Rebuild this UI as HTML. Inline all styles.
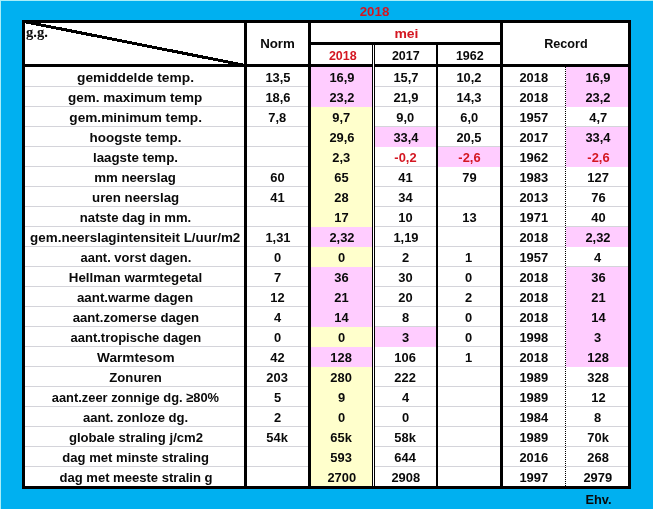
<!DOCTYPE html><html><head><meta charset="utf-8"><title>mei 2018</title><style>
html,body{margin:0;padding:0}
body{width:653px;height:509px;overflow:hidden;position:relative;background:#00b0f0;font-family:"Liberation Sans",sans-serif;font-weight:bold;color:#0a0a0a;font-size:13.3px}
div{position:absolute}
.k{background:#000}
.g{background:#d4d4da;height:1px}
.t{white-space:nowrap;text-align:center;line-height:20px;height:20px}
.t span{display:inline-block}
.r{color:#d41722}
</style></head><body>
<div style="left:0;top:0;width:653px;height:1px;background:#a8eef9"></div>
<div style="left:0;top:0;width:1px;height:509px;background:#a8eef9"></div>
<div style="left:22px;top:20px;width:609px;height:469px;background:#fff"></div>
<div class="g" style="left:25px;top:86px;width:603px"></div>
<div class="g" style="left:25px;top:106px;width:603px"></div>
<div class="g" style="left:25px;top:126px;width:603px"></div>
<div class="g" style="left:25px;top:146px;width:603px"></div>
<div class="g" style="left:25px;top:166px;width:603px"></div>
<div class="g" style="left:25px;top:186px;width:603px"></div>
<div class="g" style="left:25px;top:206px;width:603px"></div>
<div class="g" style="left:25px;top:226px;width:603px"></div>
<div class="g" style="left:25px;top:246px;width:603px"></div>
<div class="g" style="left:25px;top:266px;width:603px"></div>
<div class="g" style="left:25px;top:286px;width:603px"></div>
<div class="g" style="left:25px;top:306px;width:603px"></div>
<div class="g" style="left:25px;top:326px;width:603px"></div>
<div class="g" style="left:25px;top:346px;width:603px"></div>
<div class="g" style="left:25px;top:366px;width:603px"></div>
<div class="g" style="left:25px;top:386px;width:603px"></div>
<div class="g" style="left:25px;top:406px;width:603px"></div>
<div class="g" style="left:25px;top:426px;width:603px"></div>
<div class="g" style="left:25px;top:446px;width:603px"></div>
<div class="g" style="left:25px;top:466px;width:603px"></div>
<div style="left:311px;top:67px;width:61px;height:20px;background:#ffccff"></div>
<div style="left:566px;top:67px;width:62px;height:20px;background:#ffccff"></div>
<div style="left:311px;top:87px;width:61px;height:20px;background:#ffccff"></div>
<div style="left:566px;top:87px;width:62px;height:20px;background:#ffccff"></div>
<div style="left:311px;top:107px;width:61px;height:20px;background:#ffffcc"></div>
<div style="left:311px;top:127px;width:61px;height:20px;background:#ffffcc"></div>
<div style="left:375px;top:127px;width:61px;height:20px;background:#ffccff"></div>
<div style="left:566px;top:127px;width:62px;height:20px;background:#ffccff"></div>
<div style="left:311px;top:147px;width:61px;height:20px;background:#ffffcc"></div>
<div style="left:438px;top:147px;width:62px;height:20px;background:#ffccff"></div>
<div style="left:566px;top:147px;width:62px;height:20px;background:#ffccff"></div>
<div style="left:311px;top:167px;width:61px;height:20px;background:#ffffcc"></div>
<div style="left:311px;top:187px;width:61px;height:20px;background:#ffffcc"></div>
<div style="left:311px;top:207px;width:61px;height:20px;background:#ffffcc"></div>
<div style="left:311px;top:227px;width:61px;height:20px;background:#ffccff"></div>
<div style="left:566px;top:227px;width:62px;height:20px;background:#ffccff"></div>
<div style="left:311px;top:247px;width:61px;height:20px;background:#ffffcc"></div>
<div style="left:311px;top:267px;width:61px;height:20px;background:#ffccff"></div>
<div style="left:566px;top:267px;width:62px;height:20px;background:#ffccff"></div>
<div style="left:311px;top:287px;width:61px;height:20px;background:#ffccff"></div>
<div style="left:566px;top:287px;width:62px;height:20px;background:#ffccff"></div>
<div style="left:311px;top:307px;width:61px;height:20px;background:#ffccff"></div>
<div style="left:566px;top:307px;width:62px;height:20px;background:#ffccff"></div>
<div style="left:311px;top:327px;width:61px;height:20px;background:#ffffcc"></div>
<div style="left:375px;top:327px;width:61px;height:20px;background:#ffccff"></div>
<div style="left:566px;top:327px;width:62px;height:20px;background:#ffccff"></div>
<div style="left:311px;top:347px;width:61px;height:20px;background:#ffccff"></div>
<div style="left:566px;top:347px;width:62px;height:20px;background:#ffccff"></div>
<div style="left:311px;top:367px;width:61px;height:20px;background:#ffffcc"></div>
<div style="left:311px;top:387px;width:61px;height:20px;background:#ffffcc"></div>
<div style="left:311px;top:407px;width:61px;height:20px;background:#ffffcc"></div>
<div style="left:311px;top:427px;width:61px;height:20px;background:#ffffcc"></div>
<div style="left:311px;top:447px;width:61px;height:20px;background:#ffffcc"></div>
<div style="left:311px;top:467px;width:61px;height:20px;background:#ffffcc"></div>
<div class="k" style="left:22px;top:20px;width:609px;height:3px"></div>
<div class="k" style="left:22px;top:486px;width:609px;height:3px"></div>
<div class="k" style="left:22px;top:20px;width:3px;height:469px"></div>
<div class="k" style="left:628px;top:20px;width:3px;height:469px"></div>
<div class="k" style="left:244px;top:20px;width:3px;height:469px"></div>
<div class="k" style="left:308px;top:20px;width:3px;height:469px"></div>
<div class="k" style="left:500px;top:20px;width:3px;height:469px"></div>
<div class="k" style="left:308px;top:42px;width:195px;height:3px"></div>
<div class="k" style="left:22px;top:64px;width:609px;height:3px"></div>
<div class="k" style="left:372px;top:45px;width:1px;height:441px"></div>
<div class="k" style="left:374px;top:45px;width:1px;height:441px"></div>
<div style="left:373px;top:45px;width:1px;height:441px;background:#fff"></div>
<div class="k" style="left:436px;top:45px;width:2px;height:441px"></div>
<div style="left:565px;top:67px;width:1px;height:419px;background:repeating-linear-gradient(to bottom,#000 0,#000 1px,#fff 1px,#fff 2px)"></div>
<svg style="position:absolute;left:22px;top:20px" width="225" height="47" viewBox="0 0 225 47"><line x1="1.5" y1="1.5" x2="223.5" y2="45.5" stroke="#000" stroke-width="3" shape-rendering="crispEdges"/></svg>
<div class="t r" style="left:327px;top:2px;width:95px"><span>2018</span></div>
<div class="t" style="left:26px;top:22px;text-align:left;font-family:'Liberation Serif',serif;font-size:14.67px"><span>g.g.</span></div>
<div class="t" style="left:247px;top:34px;width:61px"><span>Norm</span></div>
<div class="t r" style="left:311px;top:24px;width:191px"><span style="transform:scaleX(1.05);">mei</span></div>
<div class="t r" style="left:312px;top:46px;width:61px"><span style="transform:scaleX(0.94);">2018</span></div>
<div class="t" style="left:375.5px;top:46px;width:61px"><span style="transform:scaleX(0.94);">2017</span></div>
<div class="t" style="left:439px;top:46px;width:62px"><span style="transform:scaleX(0.94);">1962</span></div>
<div class="t" style="left:503px;top:34px;width:126px"><span style="transform:scaleX(0.95);">Record</span></div>
<div class="t" style="left:26px;top:68px;width:219px"><span style="transform:scaleX(1.034);">gemiddelde temp.</span></div>
<div class="t" style="left:247px;top:68px;width:61px"><span style="transform:scaleX(0.97);">13,5</span></div>
<div class="t" style="left:311px;top:68px;width:61px"><span style="transform:scaleX(0.97);">16,9</span></div>
<div class="t" style="left:375px;top:68px;width:61px"><span style="transform:scaleX(0.97);">15,7</span></div>
<div class="t" style="left:438px;top:68px;width:62px"><span style="transform:scaleX(0.97);">10,2</span></div>
<div class="t" style="left:503px;top:68px;width:62px"><span style="transform:scaleX(0.97);">2018</span></div>
<div class="t" style="left:567px;top:68px;width:62px"><span style="transform:scaleX(0.97);">16,9</span></div>
<div class="t" style="left:26px;top:88px;width:219px"><span style="transform:scaleX(1.014);">gem. maximum temp</span></div>
<div class="t" style="left:247px;top:88px;width:61px"><span style="transform:scaleX(0.97);">18,6</span></div>
<div class="t" style="left:311px;top:88px;width:61px"><span style="transform:scaleX(0.97);">23,2</span></div>
<div class="t" style="left:375px;top:88px;width:61px"><span style="transform:scaleX(0.97);">21,9</span></div>
<div class="t" style="left:438px;top:88px;width:62px"><span style="transform:scaleX(0.97);">14,3</span></div>
<div class="t" style="left:503px;top:88px;width:62px"><span style="transform:scaleX(0.97);">2018</span></div>
<div class="t" style="left:567px;top:88px;width:62px"><span style="transform:scaleX(0.97);">23,2</span></div>
<div class="t" style="left:26px;top:108px;width:219px"><span style="transform:scaleX(1.026);">gem.minimum temp.</span></div>
<div class="t" style="left:247px;top:108px;width:61px"><span style="transform:scaleX(0.97);">7,8</span></div>
<div class="t" style="left:311px;top:108px;width:61px"><span style="transform:scaleX(0.97);">9,7</span></div>
<div class="t" style="left:375px;top:108px;width:61px"><span style="transform:scaleX(0.97);">9,0</span></div>
<div class="t" style="left:438px;top:108px;width:62px"><span style="transform:scaleX(0.97);">6,0</span></div>
<div class="t" style="left:503px;top:108px;width:62px"><span style="transform:scaleX(0.97);">1957</span></div>
<div class="t" style="left:567px;top:108px;width:62px"><span style="transform:scaleX(0.97);">4,7</span></div>
<div class="t" style="left:26px;top:128px;width:219px"><span style="transform:scaleX(1.011);">hoogste temp.</span></div>
<div class="t" style="left:311px;top:128px;width:61px"><span style="transform:scaleX(0.97);">29,6</span></div>
<div class="t" style="left:375px;top:128px;width:61px"><span style="transform:scaleX(0.97);">33,4</span></div>
<div class="t" style="left:438px;top:128px;width:62px"><span style="transform:scaleX(0.97);">20,5</span></div>
<div class="t" style="left:503px;top:128px;width:62px"><span style="transform:scaleX(0.97);">2017</span></div>
<div class="t" style="left:567px;top:128px;width:62px"><span style="transform:scaleX(0.97);">33,4</span></div>
<div class="t" style="left:26px;top:148px;width:219px"><span style="transform:scaleX(1.001);">laagste temp.</span></div>
<div class="t" style="left:311px;top:148px;width:61px"><span style="transform:scaleX(0.97);">2,3</span></div>
<div class="t r" style="left:375px;top:148px;width:61px"><span style="transform:scaleX(0.97);">-0,2</span></div>
<div class="t r" style="left:438px;top:148px;width:62px"><span style="transform:scaleX(0.97);">-2,6</span></div>
<div class="t" style="left:503px;top:148px;width:62px"><span style="transform:scaleX(0.97);">1962</span></div>
<div class="t r" style="left:567px;top:148px;width:62px"><span style="transform:scaleX(0.97);">-2,6</span></div>
<div class="t" style="left:26px;top:168px;width:219px"><span style="transform:scaleX(0.995);">mm neerslag</span></div>
<div class="t" style="left:247px;top:168px;width:61px"><span style="transform:scaleX(0.97);">60</span></div>
<div class="t" style="left:311px;top:168px;width:61px"><span style="transform:scaleX(0.97);">65</span></div>
<div class="t" style="left:375px;top:168px;width:61px"><span style="transform:scaleX(0.97);">41</span></div>
<div class="t" style="left:438px;top:168px;width:62px"><span style="transform:scaleX(0.97);">79</span></div>
<div class="t" style="left:503px;top:168px;width:62px"><span style="transform:scaleX(0.97);">1983</span></div>
<div class="t" style="left:567px;top:168px;width:62px"><span style="transform:scaleX(0.97);">127</span></div>
<div class="t" style="left:26px;top:188px;width:219px"><span style="transform:scaleX(0.998);">uren neerslag</span></div>
<div class="t" style="left:247px;top:188px;width:61px"><span style="transform:scaleX(0.97);">41</span></div>
<div class="t" style="left:311px;top:188px;width:61px"><span style="transform:scaleX(0.97);">28</span></div>
<div class="t" style="left:375px;top:188px;width:61px"><span style="transform:scaleX(0.97);">34</span></div>
<div class="t" style="left:503px;top:188px;width:62px"><span style="transform:scaleX(0.97);">2013</span></div>
<div class="t" style="left:567px;top:188px;width:62px"><span style="transform:scaleX(0.97);">76</span></div>
<div class="t" style="left:26px;top:208px;width:219px"><span style="transform:scaleX(0.985);">natste dag in mm.</span></div>
<div class="t" style="left:311px;top:208px;width:61px"><span style="transform:scaleX(0.97);">17</span></div>
<div class="t" style="left:375px;top:208px;width:61px"><span style="transform:scaleX(0.97);">10</span></div>
<div class="t" style="left:438px;top:208px;width:62px"><span style="transform:scaleX(0.97);">13</span></div>
<div class="t" style="left:503px;top:208px;width:62px"><span style="transform:scaleX(0.97);">1971</span></div>
<div class="t" style="left:567px;top:208px;width:62px"><span style="transform:scaleX(0.97);">40</span></div>
<div class="t" style="left:26px;top:228px;width:219px"><span style="transform:scaleX(1.009);">gem.neerslagintensiteit L/uur/m2</span></div>
<div class="t" style="left:247px;top:228px;width:61px"><span style="transform:scaleX(0.97);">1,31</span></div>
<div class="t" style="left:311px;top:228px;width:61px"><span style="transform:scaleX(0.97);">2,32</span></div>
<div class="t" style="left:375px;top:228px;width:61px"><span style="transform:scaleX(0.97);">1,19</span></div>
<div class="t" style="left:503px;top:228px;width:62px"><span style="transform:scaleX(0.97);">2018</span></div>
<div class="t" style="left:567px;top:228px;width:62px"><span style="transform:scaleX(0.97);">2,32</span></div>
<div class="t" style="left:26px;top:248px;width:219px"><span style="transform:scaleX(0.973);">aant. vorst dagen.</span></div>
<div class="t" style="left:247px;top:248px;width:61px"><span style="transform:scaleX(0.97);">0</span></div>
<div class="t" style="left:311px;top:248px;width:61px"><span style="transform:scaleX(0.97);">0</span></div>
<div class="t" style="left:375px;top:248px;width:61px"><span style="transform:scaleX(0.97);">2</span></div>
<div class="t" style="left:438px;top:248px;width:62px"><span style="transform:scaleX(0.97);">1</span></div>
<div class="t" style="left:503px;top:248px;width:62px"><span style="transform:scaleX(0.97);">1957</span></div>
<div class="t" style="left:567px;top:248px;width:62px"><span style="transform:scaleX(0.97);">4</span></div>
<div class="t" style="left:26px;top:268px;width:219px"><span style="transform:scaleX(1.003);">Hellman warmtegetal</span></div>
<div class="t" style="left:247px;top:268px;width:61px"><span style="transform:scaleX(0.97);">7</span></div>
<div class="t" style="left:311px;top:268px;width:61px"><span style="transform:scaleX(0.97);">36</span></div>
<div class="t" style="left:375px;top:268px;width:61px"><span style="transform:scaleX(0.97);">30</span></div>
<div class="t" style="left:438px;top:268px;width:62px"><span style="transform:scaleX(0.97);">0</span></div>
<div class="t" style="left:503px;top:268px;width:62px"><span style="transform:scaleX(0.97);">2018</span></div>
<div class="t" style="left:567px;top:268px;width:62px"><span style="transform:scaleX(0.97);">36</span></div>
<div class="t" style="left:26px;top:288px;width:219px"><span style="transform:scaleX(1.001);">aant.warme dagen</span></div>
<div class="t" style="left:247px;top:288px;width:61px"><span style="transform:scaleX(0.97);">12</span></div>
<div class="t" style="left:311px;top:288px;width:61px"><span style="transform:scaleX(0.97);">21</span></div>
<div class="t" style="left:375px;top:288px;width:61px"><span style="transform:scaleX(0.97);">20</span></div>
<div class="t" style="left:438px;top:288px;width:62px"><span style="transform:scaleX(0.97);">2</span></div>
<div class="t" style="left:503px;top:288px;width:62px"><span style="transform:scaleX(0.97);">2018</span></div>
<div class="t" style="left:567px;top:288px;width:62px"><span style="transform:scaleX(0.97);">21</span></div>
<div class="t" style="left:26px;top:308px;width:219px"><span style="transform:scaleX(0.989);">aant.zomerse dagen</span></div>
<div class="t" style="left:247px;top:308px;width:61px"><span style="transform:scaleX(0.97);">4</span></div>
<div class="t" style="left:311px;top:308px;width:61px"><span style="transform:scaleX(0.97);">14</span></div>
<div class="t" style="left:375px;top:308px;width:61px"><span style="transform:scaleX(0.97);">8</span></div>
<div class="t" style="left:438px;top:308px;width:62px"><span style="transform:scaleX(0.97);">0</span></div>
<div class="t" style="left:503px;top:308px;width:62px"><span style="transform:scaleX(0.97);">2018</span></div>
<div class="t" style="left:567px;top:308px;width:62px"><span style="transform:scaleX(0.97);">14</span></div>
<div class="t" style="left:26px;top:328px;width:219px"><span style="transform:scaleX(0.978);">aant.tropische dagen</span></div>
<div class="t" style="left:247px;top:328px;width:61px"><span style="transform:scaleX(0.97);">0</span></div>
<div class="t" style="left:311px;top:328px;width:61px"><span style="transform:scaleX(0.97);">0</span></div>
<div class="t" style="left:375px;top:328px;width:61px"><span style="transform:scaleX(0.97);">3</span></div>
<div class="t" style="left:438px;top:328px;width:62px"><span style="transform:scaleX(0.97);">0</span></div>
<div class="t" style="left:503px;top:328px;width:62px"><span style="transform:scaleX(0.97);">1998</span></div>
<div class="t" style="left:567px;top:328px;width:62px"><span style="transform:scaleX(0.97);">3</span></div>
<div class="t" style="left:26px;top:348px;width:219px"><span style="transform:scaleX(1.024);">Warmtesom</span></div>
<div class="t" style="left:247px;top:348px;width:61px"><span style="transform:scaleX(0.97);">42</span></div>
<div class="t" style="left:311px;top:348px;width:61px"><span style="transform:scaleX(0.97);">128</span></div>
<div class="t" style="left:375px;top:348px;width:61px"><span style="transform:scaleX(0.97);">106</span></div>
<div class="t" style="left:438px;top:348px;width:62px"><span style="transform:scaleX(0.97);">1</span></div>
<div class="t" style="left:503px;top:348px;width:62px"><span style="transform:scaleX(0.97);">2018</span></div>
<div class="t" style="left:567px;top:348px;width:62px"><span style="transform:scaleX(0.97);">128</span></div>
<div class="t" style="left:26px;top:368px;width:219px"><span style="transform:scaleX(0.988);">Zonuren</span></div>
<div class="t" style="left:247px;top:368px;width:61px"><span style="transform:scaleX(0.97);">203</span></div>
<div class="t" style="left:311px;top:368px;width:61px"><span style="transform:scaleX(0.97);">280</span></div>
<div class="t" style="left:375px;top:368px;width:61px"><span style="transform:scaleX(0.97);">222</span></div>
<div class="t" style="left:503px;top:368px;width:62px"><span style="transform:scaleX(0.97);">1989</span></div>
<div class="t" style="left:567px;top:368px;width:62px"><span style="transform:scaleX(0.97);">328</span></div>
<div class="t" style="left:26px;top:388px;width:219px"><span style="transform:scaleX(0.968);">aant.zeer zonnige dg. ≥80%</span></div>
<div class="t" style="left:247px;top:388px;width:61px"><span style="transform:scaleX(0.97);">5</span></div>
<div class="t" style="left:311px;top:388px;width:61px"><span style="transform:scaleX(0.97);">9</span></div>
<div class="t" style="left:375px;top:388px;width:61px"><span style="transform:scaleX(0.97);">4</span></div>
<div class="t" style="left:503px;top:388px;width:62px"><span style="transform:scaleX(0.97);">1989</span></div>
<div class="t" style="left:567px;top:388px;width:62px"><span style="transform:scaleX(0.97);">12</span></div>
<div class="t" style="left:26px;top:408px;width:219px"><span style="transform:scaleX(0.983);">aant. zonloze dg.</span></div>
<div class="t" style="left:247px;top:408px;width:61px"><span style="transform:scaleX(0.97);">2</span></div>
<div class="t" style="left:311px;top:408px;width:61px"><span style="transform:scaleX(0.97);">0</span></div>
<div class="t" style="left:375px;top:408px;width:61px"><span style="transform:scaleX(0.97);">0</span></div>
<div class="t" style="left:503px;top:408px;width:62px"><span style="transform:scaleX(0.97);">1984</span></div>
<div class="t" style="left:567px;top:408px;width:62px"><span style="transform:scaleX(0.97);">8</span></div>
<div class="t" style="left:26px;top:428px;width:219px"><span style="transform:scaleX(0.986);">globale straling j/cm2</span></div>
<div class="t" style="left:247px;top:428px;width:61px"><span style="transform:scaleX(0.97);">54k</span></div>
<div class="t" style="left:311px;top:428px;width:61px"><span style="transform:scaleX(0.97);">65k</span></div>
<div class="t" style="left:375px;top:428px;width:61px"><span style="transform:scaleX(0.97);">58k</span></div>
<div class="t" style="left:503px;top:428px;width:62px"><span style="transform:scaleX(0.97);">1989</span></div>
<div class="t" style="left:567px;top:428px;width:62px"><span style="transform:scaleX(0.97);">70k</span></div>
<div class="t" style="left:26px;top:448px;width:219px"><span style="transform:scaleX(0.982);">dag met minste straling</span></div>
<div class="t" style="left:311px;top:448px;width:61px"><span style="transform:scaleX(0.97);">593</span></div>
<div class="t" style="left:375px;top:448px;width:61px"><span style="transform:scaleX(0.97);">644</span></div>
<div class="t" style="left:503px;top:448px;width:62px"><span style="transform:scaleX(0.97);">2016</span></div>
<div class="t" style="left:567px;top:448px;width:62px"><span style="transform:scaleX(0.97);">268</span></div>
<div class="t" style="left:26px;top:468px;width:219px"><span style="transform:scaleX(0.981);">dag met meeste stralin g</span></div>
<div class="t" style="left:311px;top:468px;width:61px"><span style="transform:scaleX(0.97);">2700</span></div>
<div class="t" style="left:375px;top:468px;width:61px"><span style="transform:scaleX(0.97);">2908</span></div>
<div class="t" style="left:503px;top:468px;width:62px"><span style="transform:scaleX(0.97);">1997</span></div>
<div class="t" style="left:567px;top:468px;width:62px"><span style="transform:scaleX(0.97);">2979</span></div>
<div class="t" style="left:568px;top:490px;width:62px"><span style="transform:scaleX(0.96);">Ehv.</span></div>
</body></html>
